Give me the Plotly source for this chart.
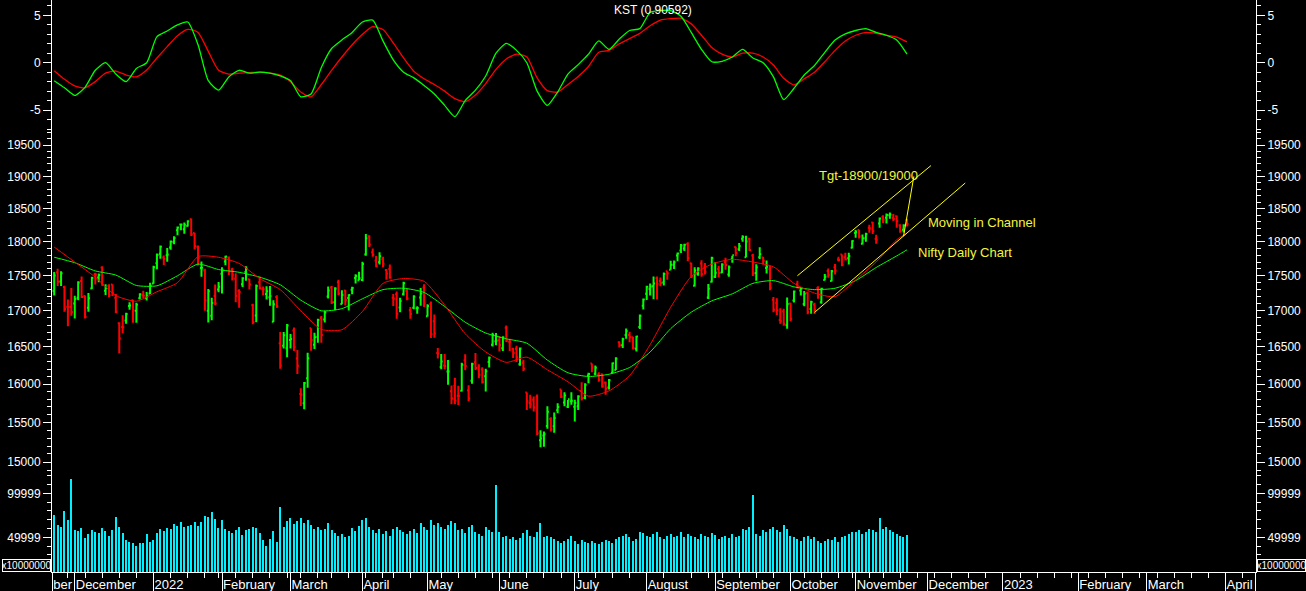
import math
import numpy as np
import pandas as pd
import plotly.graph_objects as go

# ---------------- data ----------------
nse_holidays = ["2022-01-26", "2022-03-01", "2022-03-18", "2022-04-14", "2022-04-15",
                "2022-05-03", "2022-08-09", "2022-08-15", "2022-08-31", "2022-10-05",
                "2022-10-26", "2022-11-08"]
first_date = "2021-11-23"
last_date = "2022-11-23"

opens = [17281, 17550, 17418, 17339, 17055, 17052,
         17104, 17183, 17424, 17209, 17044, 17315, 17524, 17476, 17619, 17284, 17353, 17374, 17183, 16824, 16773, 16865, 17066, 17149, 17000, 17178, 17220, 17181, 17244,
         17388, 17681, 17821, 17768, 17798, 17913, 17997, 18170, 18257, 18185, 18235, 18337, 18129, 17921, 17613, 17575, 17001, 16929, 17208, 17301,
         17529, 17706, 17767, 17591, 17456, 17280, 17379, 17554, 17451, 17077, 16934, 17408, 17304, 17236, 17192, 16847, 17194, 16548, 16516, 16481,
         16593, 16724, 16340, 15867, 15747, 16078, 16757, 16528, 16634, 16900, 16877, 17202, 17329, 17120, 17405, 17094, 17289, 17181, 17297, 17468, 17436,
         17437, 17809, 18081, 17842, 17723, 17698, 17740, 17584, 17599, 17183, 17234, 17045, 17234, 17280, 17009, 17042, 17037, 17189, 17329,
         16924, 17096, 16854, 16415, 16228, 16248, 16166, 15904, 15977, 15845, 15912, 16318, 15917, 16043, 16291, 16225, 16196, 16105, 16296, 16527, 16578,
         16594, 16481, 16762, 16570, 16469, 16474, 16264, 16284, 15887, 15750, 15792, 15832, 15272, 15334, 15455, 15545, 15451, 15657, 15927, 15757, 15701, 15774,
         15703, 15710, 15909, 15818, 16114, 16273, 16137, 16127, 16129, 16019, 15954, 16151, 16187, 16562, 16523, 16661, 16662, 16632, 16475, 16774, 17072,
         17243, 17310, 17349, 17463, 17423, 17401, 17567, 17589, 17659, 17797, 17868, 17898, 17966, 17682, 17357, 17525, 17679, 17619, 17188, 17414,
         17485, 17599, 17546, 17695, 17519, 17748, 17923, 17890, 18044, 17771, 18046, 17796, 17541, 17770, 17766, 17612, 17593, 17157, 17111, 16871, 16993, 16799,
         17102, 17147, 17379, 17287, 17094, 17256, 17026, 17087, 17322, 17122, 17438, 17568, 17423, 17622, 17736, 17809, 17771, 17756, 17910,
         18130, 18177, 17969, 18053, 18211, 18289, 18045, 18273, 18377, 18362, 18398, 18358, 18382, 18247, 18180, 18326]

highs = [17553, 17600, 17564, 17355, 17160, 17324,
         17213, 17420, 17490, 17216, 17251, 17484, 17543, 17534, 17639, 17376, 17376, 17376, 17237, 16840, 16937, 16971, 17119, 17155, 17112, 17250, 17285, 17265, 17400,
         17646, 17827, 17945, 17797, 17905, 18017, 18081, 18228, 18272, 18287, 18321, 18350, 18129, 17944, 17707, 17600, 17309, 17183, 17374, 17410,
         17622, 17794, 17781, 17617, 17536, 17306, 17477, 17639, 17454, 17099, 17375, 17491, 17344, 17348, 17351, 17148, 17220, 16705, 16705, 16815,
         16678, 16768, 16456, 15945, 16028, 16418, 16757, 16694, 16887, 16928, 17000, 17345, 17353, 17334, 17442, 17291, 17295, 17235, 17343, 17522, 17559,
         17703, 18114, 18095, 17901, 17787, 17842, 17779, 17597, 17663, 17237, 17275, 17186, 17414, 17315, 17054, 17220, 17064, 17322, 17377,
         17092, 17132, 16946, 16485, 16404, 16404, 16320, 15979, 16084, 15978, 16284, 16399, 15984, 16284, 16415, 16263, 16223, 16204, 16370, 16695, 16691,
         16649, 16646, 16793, 16610, 16487, 16514, 16492, 16324, 15887, 15859, 15837, 15863, 15400, 15382, 15707, 15565, 15628, 15749, 15927, 15892, 15790, 15890,
         15794, 15852, 16025, 16011, 16151, 16275, 16248, 16158, 16140, 16033, 16066, 16287, 16359, 16575, 16626, 16752, 16707, 16636, 16653, 16947, 17172,
         17356, 17390, 17490, 17491, 17474, 17548, 17567, 17720, 17724, 17839, 17965, 17969, 17992, 17690, 17625, 17623, 17726, 17685, 17380, 17778,
         17695, 17644, 17683, 17764, 17650, 17792, 17925, 17980, 18096, 18091, 18058, 17820, 17667, 17919, 17772, 17722, 17642, 17196, 17176, 17037, 17027, 17188,
         17115, 17287, 17428, 17337, 17280, 17261, 17142, 17112, 17348, 17328, 17527, 17607, 17584, 17670, 17777, 17811, 17838, 17838, 18022,
         18175, 18178, 18107, 18135, 18255, 18296, 18103, 18363, 18399, 18427, 18442, 18417, 18394, 18262, 18261, 18345]

lows = [17216, 17354, 17351, 16985, 16782, 16931,
        16892, 17150, 17180, 16891, 16988, 17308, 17375, 17406, 17355, 17225, 17192, 17211, 16966, 16410, 16688, 16819, 17016, 16834, 16833, 17161, 17176, 17146, 17238,
        17383, 17593, 17749, 17655, 17704, 17879, 17964, 18096, 18172, 18120, 18228, 18085, 17884, 17649, 17486, 17000, 16837, 16866, 17077, 17264,
        17244, 17654, 17511, 17433, 17119, 17044, 17339, 17427, 17303, 16810, 16839, 17301, 17220, 17159, 17070, 16844, 17038, 16203, 16478, 16357,
        16478, 16443, 16133, 15711, 15671, 15950, 16447, 16470, 16555, 16555, 16837, 17175, 17096, 17006, 17220, 17091, 17076, 17003, 17235, 17387, 17435,
        17422, 17791, 17921, 17779, 17623, 17665, 17625, 17442, 17457, 17067, 16889, 16978, 17216, 17149, 16889, 17023, 16958, 17072, 17055,
        16918, 16623, 16624, 16340, 16198, 16197, 15989, 15736, 15736, 15726, 15900, 16182, 15775, 16003, 16186, 16078, 16007, 15903, 16221, 16506, 16521,
        16438, 16444, 16567, 16444, 16347, 16293, 16244, 16172, 15659, 15678, 15641, 15335, 15183, 15192, 15419, 15385, 15367, 15619, 15815, 15710, 15687, 15728,
        15511, 15661, 15785, 15800, 16011, 16157, 16116, 16031, 15950, 15858, 15927, 16142, 16187, 16490, 16483, 16610, 16564, 16463, 16438, 16746, 17018,
        17154, 17215, 17162, 17161, 17348, 17359, 17442, 17587, 17597, 17710, 17833, 17862, 17710, 17467, 17345, 17499, 17487, 17519, 17166, 17401,
        17468, 17476, 17541, 17587, 17487, 17691, 17786, 17864, 17999, 17771, 17861, 17497, 17429, 17744, 17663, 17532, 17291, 16978, 16942, 16820, 16789, 16748,
        16855, 17117, 17315, 17216, 17064, 16950, 16960, 16956, 17171, 17098, 17434, 17472, 17421, 17520, 17707, 17637, 17723, 17662, 17899,
        18060, 18048, 17959, 18000, 18135, 18117, 17969, 18211, 18282, 18272, 18344, 18311, 18209, 18133, 18137, 18229]

closes = [17503, 17415, 17537, 17026, 17053, 16983,
          17167, 17401, 17196, 16912, 17176, 17469, 17517, 17511, 17368, 17324, 17221, 17248, 16985, 16614, 16770, 16955, 17073, 17004, 17086, 17233, 17214, 17204, 17354,
          17625, 17805, 17925, 17746, 17812, 18003, 18056, 18212, 18258, 18255, 18308, 18113, 17938, 17757, 17617, 17149, 17278, 17110, 17102, 17340,
          17576, 17780, 17560, 17516, 17213, 17266, 17464, 17606, 17375, 16843, 17352, 17323, 17304, 17276, 17207, 17092, 17063, 16248, 16658, 16794,
          16606, 16498, 16245, 15863, 16013, 16345, 16594, 16630, 16871, 16663, 16975, 17287, 17117, 17316, 17246, 17223, 17153, 17222, 17325, 17498, 17465,
          17670, 18053, 17957, 17807, 17640, 17784, 17675, 17530, 17476, 17174, 16959, 17137, 17393, 17172, 16954, 17201, 17039, 17245, 17102,
          17069, 16677, 16683, 16411, 16301, 16240, 16167, 15808, 15782, 15842, 16259, 16240, 15809, 16266, 16215, 16125, 16026, 16170, 16352, 16661, 16585,
          16523, 16628, 16584, 16570, 16416, 16357, 16479, 16202, 15774, 15732, 15692, 15361, 15294, 15350, 15638, 15413, 15557, 15699, 15832, 15850, 15799, 15780,
          15752, 15835, 15810, 15990, 16133, 16220, 16216, 16058, 15967, 15939, 16049, 16279, 16341, 16521, 16605, 16719, 16632, 16484, 16642, 16930, 17158,
          17340, 17345, 17388, 17382, 17397, 17525, 17535, 17659, 17698, 17825, 17944, 17956, 17758, 17491, 17577, 17605, 17523, 17559, 17313, 17760,
          17542, 17539, 17665, 17655, 17624, 17798, 17833, 17936, 18070, 18004, 17877, 17531, 17622, 17816, 17718, 17630, 17327, 17016, 17007, 16858, 16818, 17094,
          16887, 17274, 17331, 17315, 17241, 16984, 17124, 17014, 17186, 17312, 17487, 17512, 17564, 17576, 17730, 17656, 17737, 17787, 18012,
          18145, 18083, 18053, 18117, 18203, 18157, 18028, 18350, 18329, 18403, 18409, 18343, 18307, 18160, 18244, 18267]

volumes = [75000, 63600, 61700, 79500, 69300, 116000,
           58000, 56800, 60200, 49600, 53400, 58000, 56000, 54900, 60200, 56800, 51100, 58000, 72700, 61400, 54500, 46600, 44300, 43200, 39800, 43200, 43200, 53400, 44300,
           46600, 54500, 59100, 56800, 60200, 59100, 64800, 62500, 67000, 61400, 62500, 63600, 67000, 62500, 67000, 73800, 72700, 78400, 70400, 60200,
           69300, 59100, 56800, 54500, 58000, 61400, 52300, 58000, 59100, 61400, 60200, 54500, 46600, 39800, 47700, 56800, 44300, 84000, 61400, 68100,
           71600, 64800, 68100, 72000, 66000, 70000, 64000, 60000, 62000, 58000, 60000, 66000, 58000, 55000, 52000, 54000, 50000, 52000, 61000, 57000, 63000,
           70000, 72000, 62000, 58000, 55000, 60000, 54000, 57000, 52000, 60000, 62000, 58000, 56000, 54000, 57000, 60000, 55000, 66000, 62000,
           58000, 70000, 64000, 66000, 62000, 60000, 64000, 68000, 66000, 58000, 60000, 55000, 62000, 64000, 56000, 54000, 52000, 62000, 58000, 56000, 110000,
           56000, 50000, 52000, 48000, 50000, 47000, 49000, 55000, 58000, 52000, 50000, 56000, 66000, 50000, 52000, 50000, 48000, 46000, 44000, 46000, 48000, 52000,
           46000, 42000, 47000, 45000, 44000, 46000, 43000, 42000, 45000, 47000, 46000, 44000, 48000, 50000, 52000, 54000, 50000, 46000, 48000, 56000, 55000,
           52000, 50000, 54000, 56000, 50000, 48000, 52000, 54000, 50000, 52000, 56000, 50000, 54000, 52000, 50000, 48000, 54000, 52000, 50000, 55000,
           53000, 48000, 50000, 52000, 49000, 54000, 50000, 52000, 60000, 58000, 62000, 98000, 54000, 52000, 58000, 56000, 60000, 62000, 58000, 56000, 64000, 60000,
           52000, 50000, 48000, 46000, 50000, 52000, 48000, 50000, 46000, 44000, 46000, 48000, 47000, 50000, 45000, 50000, 52000, 54000, 56000,
           56000, 58000, 54000, 56000, 60000, 58000, 56000, 72000, 60000, 62000, 58000, 56000, 54000, 52000, 50000, 53000]

# KST and its signal, read every 3rd trading day from the first bar
kst_line = [-1.9, -2.65, -3.45, -2.6, -0.8, 0.0, -1.2, -2.0, -0.6, 0.0,
            2.75, 3.35, 4.0, 4.3, 1.9, -1.9, -2.9, -1.5, -0.8, -1.1,
            -1.0, -1.1, -1.4, -1.9, -3.6, -3.3, -0.5, 1.5, 2.4, 3.2,
            4.3, 4.5, 2.3, 0.3, -1.0, -1.6, -2.4, -3.3, -4.5, -5.7,
            -4.0, -2.9, -1.4, 1.0, 2.05, 1.3, 0.0, -3.0, -4.5, -3.1,
            -1.2, -0.2, 0.9, 2.3, 1.4, 2.5, 3.4, 3.6, 5.3, 5.5,
            5.5, 4.9, 3.2, 1.4, 0.1, 0.15, 0.6, 1.4, 0.5, 0.0,
            -1.5, -3.9, -2.7, -1.3, -0.3, 1.1, 2.4, 3.05, 3.4, 3.6,
            3.2, 2.9, 2.4, 0.90592]
kst_signal = [-0.85, -1.75, -2.45, -2.65, -2.0, -1.1, -0.88, -1.3, -1.5, -0.77,
              0.5, 1.7, 2.85, 3.52, 3.2, 1.2, -0.8, -1.2, -1.1, -1.05,
              -1.0, -1.1, -1.3, -2.0, -3.1, -3.6, -2.3, -0.8, 0.6, 1.9,
              3.0, 3.8, 3.5, 2.1, 0.5, -0.9, -1.7, -2.3, -3.0, -3.8,
              -4.1, -3.4, -2.2, -0.7, 0.4, 0.9, 0.6, -1.6, -2.95, -3.1,
              -2.3, -1.45, -0.4, 1.1, 1.3, 2.0, 2.55, 3.1, 3.9, 4.5,
              4.65, 4.7, 4.1, 2.9, 1.6, 0.9, 0.6, 1.0, 1.0, 0.6,
              -0.25, -1.65, -2.35, -1.7, -1.0, 0.1, 1.3, 2.3, 2.9, 3.2,
              3.1, 2.9, 2.7, 2.2]
kst_last = "0.90592"

# moving averages, read every 6th trading day (plus the last bar)
ma_fast = [17920, 17700, 17480, 17215, 17135, 17270, 17400, 17780, 17770, 17680,
           17460, 17300, 17000, 16740, 16735, 16990, 17390, 17460, 17420, 17080,
           16680, 16430, 16290, 16360, 16190, 16030, 15840, 15910, 16110, 16530,
           17050, 17490, 17670, 17740, 17700, 17630, 17390, 17250, 17200, 17440,
           17700, 18030, 18130]
ma_slow = [17770, 17690, 17570, 17510, 17360, 17355, 17500, 17670, 17590, 17550,
           17480, 17370, 17150, 17000, 17030, 17170, 17300, 17320, 17260, 17060,
           16840, 16690, 16610, 16550, 16320, 16150, 16100, 16130, 16220, 16430,
           16750, 16980, 17140, 17240, 17390, 17430, 17340, 17300, 17320, 17430,
           17620, 17790, 17880]

resistance = 18100
channel_upper_dates = ["2022-10-06", "2022-12-02"]
channel_upper_vals = [17500, 19171]
channel_lower_dates = ["2022-10-13", "2022-12-16"]
channel_lower_vals = [16977, 18896]
target_dates = ["2022-11-22", "2022-11-25"]
target_vals = [18082, 19000]

kst_ticks = [-5, 0, 5]
price_ticks = [15000, 15500, 16000, 16500, 17000, 17500, 18000, 18500, 19000, 19500]
volume_ticks = [49999, 99999]
month_names = ["January", "February", "March", "April", "May", "June", "July",
               "August", "September", "October", "November", "December"]

# ---------------- trading calendar ----------------
cal = pd.bdate_range("2021-11-22", "2023-04-28")
cal = cal[~cal.isin(pd.to_datetime(nse_holidays))]
pos = {d: i for i, d in enumerate(cal)}
dates = cal[(cal >= pd.Timestamp(first_date)) & (cal <= pd.Timestamp(last_date))]
x = np.array([pos[d] for d in dates], dtype=float)

kst_x = x[::3]
ma_idx = list(range(0, len(x), 6)) + [len(x) - 1]
ma_x = x[ma_idx]


def to_pos(ds):
    return [pos[pd.Timestamp(d)] for d in ds]


x_range = [0.36, 351.9]

tickvals, ticktext = [x_range[0] + 0.05], ["ber"]
prev = None
for i, d in enumerate(cal):
    key = (d.year, d.month)
    if key != prev:
        prev = key
        if i == 0:
            continue
        if x_range[0] < i < x_range[1]:
            tickvals.append(i)
            ticktext.append(str(d.year) if d.month == 1 else month_names[d.month - 1])
tickvals.append(x_range[1] - 0.05)
ticktext.append("")
mondays = [i for i, d in enumerate(cal) if d.weekday() == 0 and x_range[0] < i < x_range[1]]

# ---------------- figure ----------------
FONT = "Liberation Sans, Arial, sans-serif"
GREEN, RED, YELLOW = "#00ff00", "#ff0000", "#ffff00"

d_vol = 99 / 572
d_kst = 441 / 572

fig = go.Figure()

fig.add_trace(go.Scatter(x=kst_x, y=kst_signal, mode="lines",
                         line=dict(color=RED, width=1.3, shape="spline", smoothing=0.6),
                         xaxis="x", yaxis="y", showlegend=False, hoverinfo="skip"))
fig.add_trace(go.Scatter(x=kst_x, y=kst_line, mode="lines",
                         line=dict(color=GREEN, width=1.3, shape="spline", smoothing=0.6),
                         xaxis="x", yaxis="y", showlegend=False))

fig.add_trace(go.Scatter(x=ma_x, y=ma_slow, mode="lines",
                         line=dict(color=GREEN, width=1, shape="spline", smoothing=0.6),
                         xaxis="x", yaxis="y3", showlegend=False, hoverinfo="skip"))
fig.add_trace(go.Scatter(x=ma_x, y=ma_fast, mode="lines",
                         line=dict(color=RED, width=1, shape="spline", smoothing=0.6),
                         xaxis="x", yaxis="y3", showlegend=False, hoverinfo="skip"))
fig.add_trace(go.Ohlc(x=x, open=opens, high=highs, low=lows, close=closes,
                      increasing=dict(line=dict(color=GREEN, width=2)),
                      decreasing=dict(line=dict(color=RED, width=2)),
                      tickwidth=0.45, xaxis="x", yaxis="y3", showlegend=False))
for ds, vs in [(channel_upper_dates, channel_upper_vals), (channel_lower_dates, channel_lower_vals),
               (target_dates, target_vals)]:
    fig.add_trace(go.Scatter(x=to_pos(ds), y=vs, mode="lines", line=dict(color=YELLOW, width=1),
                             xaxis="x", yaxis="y3", showlegend=False, hoverinfo="skip"))

fig.add_trace(go.Bar(x=x, y=volumes, width=0.35, marker=dict(color="#00f0ff", line=dict(width=0)),
                     xaxis="x", yaxis="y5", showlegend=False))

for ya in ["y2", "y4", "y6"]:
    fig.add_trace(go.Scatter(x=[None], y=[None], xaxis="x", yaxis=ya, showlegend=False, hoverinfo="skip"))

tickfont = dict(family=FONT, size=12, color="white")
common = dict(showgrid=False, zeroline=False, showline=True, linecolor="white", linewidth=1,
              ticks="outside", ticklen=8, tickwidth=1, tickcolor="white", tickfont=tickfont,
              tickmode="array", fixedrange=True)


def minor(vals):
    return dict(tickmode="array", tickvals=vals, ticks="outside", ticklen=4, tickwidth=1,
                tickcolor="white", showgrid=False)


kst_range = [-7.21, 6.62]
price_range = [4.17214, 4.29507]
vol_range = [10570, 123070]

fig.update_layout(
    width=1306, height=591,
    margin=dict(l=52, r=50, t=0, b=19),
    paper_bgcolor="black", plot_bgcolor="black",
    showlegend=False, bargap=0,
    font=dict(family=FONT, color="white"),
    xaxis=dict(range=x_range, domain=[0, 1], anchor="y5", showgrid=False, zeroline=False,
               showline=True, linecolor="white", linewidth=1,
               ticks="outside", ticklen=19, tickwidth=1, tickcolor="white",
               tickmode="array", tickvals=tickvals, ticktext=ticktext, tickangle=0,
               ticklabelposition="outside right",
               tickfont=dict(family=FONT, size=13, color="white"),
               minor=dict(tickmode="array", tickvals=mondays, ticks="outside", ticklen=5,
                          tickwidth=1, tickcolor="white", showgrid=False),
               rangeslider=dict(visible=False), fixedrange=True),
    yaxis=dict(domain=[d_kst, 1], range=kst_range, tickvals=kst_ticks, ticktext=[str(v) for v in kst_ticks],
               minor=minor(list(range(-7, 7))), side="left", anchor="x", **common),
    yaxis2=dict(overlaying="y", range=kst_range, tickvals=kst_ticks, ticktext=[str(v) for v in kst_ticks],
                minor=minor(list(range(-7, 7))), side="right", anchor="x", **common),
    yaxis3=dict(domain=[d_vol, d_kst], type="log", range=price_range, tickvals=price_ticks,
                ticktext=[str(v) for v in price_ticks], minor=minor(list(range(14900, 19800, 100))),
                side="left", anchor="x", **common),
    yaxis4=dict(overlaying="y3", type="log", range=price_range, tickvals=price_ticks,
                ticktext=[str(v) for v in price_ticks], minor=minor(list(range(14900, 19800, 100))),
                side="right", anchor="x", **common),
    yaxis5=dict(domain=[0, d_vol], range=vol_range, tickvals=volume_ticks,
                ticktext=[str(v) for v in volume_ticks], minor=minor(list(range(20000, 130000, 10000))),
                side="left", anchor="x", **common),
    yaxis6=dict(overlaying="y5", range=vol_range, tickvals=volume_ticks,
                ticktext=[str(v) for v in volume_ticks], minor=minor(list(range(20000, 130000, 10000))),
                side="right", anchor="x", **common),
)

fig.add_shape(type="line", xref="paper", x0=0, x1=1, yref="y3",
              y0=math.log10(resistance), y1=math.log10(resistance),
              line=dict(color=YELLOW, width=1))

note_font = dict(family=FONT, size=13, color="#f4f43c")
fig.add_annotation(text="Tgt-18900/19000", xref="x", yref="y3", x=223.7, y=math.log10(19007),
                   xanchor="left", yanchor="middle", showarrow=False, font=note_font)
fig.add_annotation(text="Moving in Channel", xref="x", yref="y3", x=255.6, y=math.log10(18296),
                   xanchor="left", yanchor="middle", showarrow=False, font=note_font)
fig.add_annotation(text="Nifty Daily Chart", xref="x", yref="y3", x=252.7, y=math.log10(17843),
                   xanchor="left", yanchor="middle", showarrow=False, font=note_font)

fig.add_annotation(text=f"KST ({kst_last})", xref="paper", yref="paper",
                   x=(653 - 52) / 1204, y=1 - 10 / 572, xanchor="center", yanchor="middle",
                   showarrow=False, font=dict(family=FONT, size=12, color="white"))

for xp in [(2 - 52) / 1204, (1257 - 52) / 1204]:
    fig.add_annotation(text="x10000000", xref="paper", yref="paper", x=xp, y=0,
                       xanchor="left", yanchor="bottom", showarrow=False,
                       font=dict(family=FONT, size=10, color="white"),
                       bordercolor="white", borderwidth=1, borderpad=0, width=47, height=11,
                       bgcolor="black")

fig.write_html("out.html", config={"displayModeBar": False},
               post_script="document.body.style.margin='0';document.body.style.background='black';"
                           "document.body.style.overflow='hidden';")
